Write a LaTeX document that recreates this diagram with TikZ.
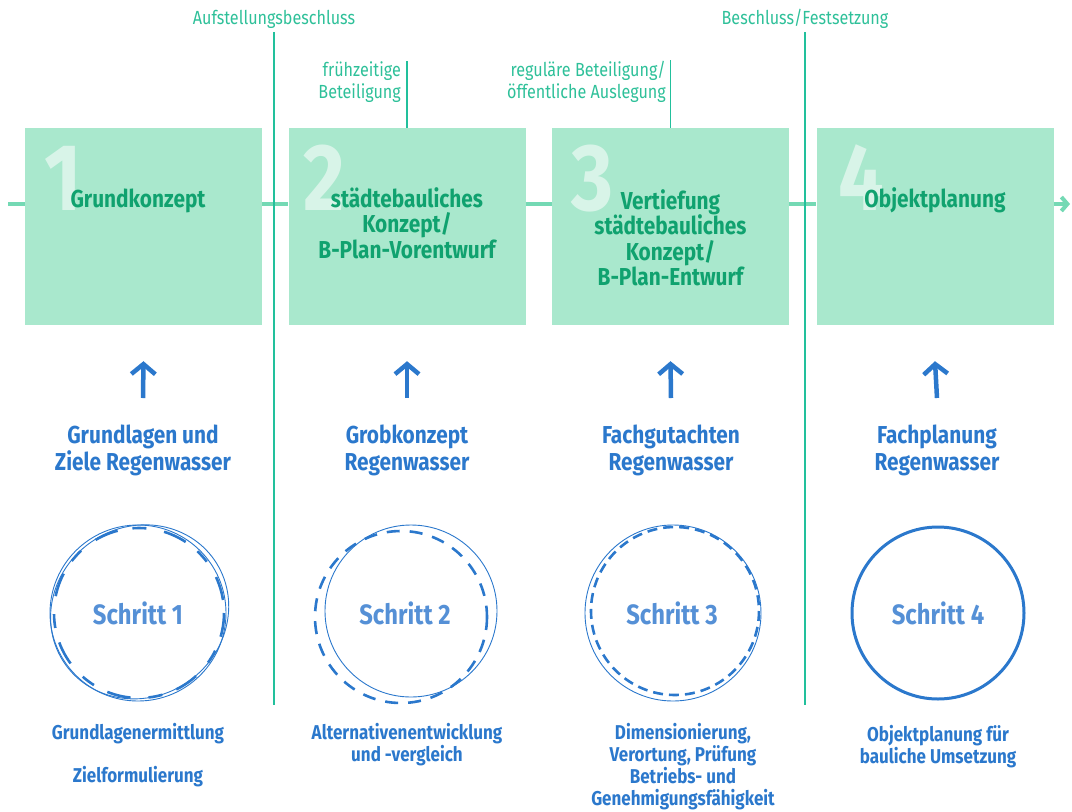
\documentclass[tikz,border=0pt]{standalone}
\usepackage{fontspec}
\setmainfont{Fira Sans}[FakeStretch=0.85]
\usetikzlibrary{arrows.meta,positioning}

\definecolor{boxmint}{HTML}{A9E8CD}
\definecolor{linemint}{HTML}{74D9B4}
\definecolor{rulegreen}{HTML}{22C09C}
\definecolor{labgreen}{HTML}{2EC099}
\definecolor{titlegreen}{HTML}{10A26F}
\definecolor{rainblue}{HTML}{2B78CC}
\definecolor{stepblue}{HTML}{5590D6}

\tikzset{
  phase/.style={fill=boxmint, minimum width=237pt, minimum height=197pt, inner sep=0pt},
  bignum/.style={text=white, text opacity=0.55, font=\fontsize{95}{95}\selectfont\bfseries, anchor=base west, inner sep=0pt},
  title/.style={text=titlegreen, font=\fontsize{24.5}{25.5}\selectfont\bfseries, align=center, anchor=base, inner sep=0pt},
  milestone/.style={text=labgreen, font=\fontsize{19}{22}\selectfont, inner sep=0pt},
  plan/.style={text=rainblue, font=\fontsize{24.5}{27}\selectfont\bfseries, align=center, anchor=base, inner sep=0pt},
  stepname/.style={text=stepblue, font=\fontsize{28}{28}\selectfont\bfseries, inner sep=0pt},
  task/.style={text=rainblue, font=\fontsize{20}{22}\selectfont\bfseries, align=center, anchor=base, inner sep=0pt},
  flow/.style={draw=linemint, line width=4pt},
  cut/.style={draw=rulegreen, line width=1.6pt},
  feed/.style={draw=rainblue, line width=4.5pt, -{Straight Barb[length=10pt,width=24pt]}},
  sketch/.style={draw=rainblue, line width=0.9pt},
  sketchdash/.style={draw=rainblue, line width=2.6pt},
}

\begin{document}
\begin{tikzpicture}[x=1pt,y=-1pt]
            \useasboundingbox (0,0) rectangle (1072,812);

            % Phases
            \node[phase] (grund)   at (143.5,226.5) {};
            \node[phase] (staedte) at (407,226.5)   {};
            \node[phase] (vertief) at (670.5,226.5) {};
            \node[phase] (objekt)  at (935,226.5)   {};

            \coordinate (flowin)  at (8,204);
            \coordinate (flowout) at (1070,204);
            \draw[flow] (flowin) -- (flowin -| grund.west);
            \draw[flow] (flowin -| grund.east) -- (flowin -| staedte.west);
            \draw[flow] (flowin -| staedte.east) -- (flowin -| vertief.west);
            \draw[flow] (flowin -| vertief.east) -- (flowin -| objekt.west);
            \draw[flow,-{Straight Barb[length=6pt,width=14pt]}] (flowin -| objekt.east) -- (flowout);

            \node[bignum] (num1) at (44,210)  {1};
            \node[bignum] (num2) at (303,210) {2};
            \node[bignum] (num3) at (571,210) {3};
            \node[bignum] (num4) at (838,210) {4};

            % base of a wrapped node is its last line
            \node[title] (title1) at (138,207)     {Grundkonzept};
            \node[title] (title2) at (407,258)     {städtebauliches\\Konzept/\\B-Plan-Vorentwurf};
            \node[title] (title3) at (670.5,285.5) {Vertiefung\\städtebauliches\\Konzept/\\B-Plan-Entwurf};
            \node[title] (title4) at (935,207)     {Objektplanung};

            % Milestones
            \node[milestone, anchor=base] (aufst)  at (274,24) {Aufstellungsbeschluss};
            \node[milestone, anchor=base] (beschl) at (805,24) {Beschluss/Festsetzung};
            \coordinate (aufstend)  at (274,705);
            \coordinate (beschlend) at (805,705);
            \draw[cut] ([yshift=-4pt]aufst.south) -- (aufstend);
            \draw[cut] ([yshift=-4pt]beschl.south) -- (beschlend);

            \node[milestone, align=right, anchor=base east] (frueh) at (401,98) {frühzeitige\\Beteiligung};
            \node[milestone, align=right, anchor=base east] (regul) at (666,98) {reguläre Beteiligung/\\öffentliche Auslegung};
            \draw[cut] (staedte.north) -- (staedte.north |- frueh.north);
            \draw[cut] (vertief.north) -- (vertief.north |- regul.north);

            % Regenwasser
            \node[plan] (plan1) at (143,470)   {Grundlagen und\\Ziele Regenwasser};
            \node[plan] (plan2) at (407,470)   {Grobkonzept\\Regenwasser};
            \node[plan] (plan3) at (671,470)   {Fachgutachten\\Regenwasser};
            \node[plan] (plan4) at (937,470)   {Fachplanung\\Regenwasser};
            \draw[feed] (plan1.north |- 0,398) -- ([yshift=-36pt]grund.south);
            \draw[feed] (plan2.north |- 0,398) -- ([yshift=-36pt]staedte.south);
            \draw[feed] (plan3.north |- 0,398) -- ([yshift=-36pt]vertief.south);
            \draw[feed] (plan4.north |- 0,398) -- ([yshift=-36pt]objekt.south);

            % Schritte
            \node[stepname] (step1) at (138,613) {Schritt 1};
            \node[stepname] (step2) at (405,613) {Schritt 2};
            \node[stepname] (step3) at (672,613) {Schritt 3};
            \node[stepname] (step4) at (938,613) {Schritt 4};

            \draw[sketch] (step1.center) circle[radius=88];
            \draw[sketch, rotate around={35:(step1.center)}] ([xshift=2pt]step1.center) ellipse[x radius=91, y radius=85];
            \draw[sketchdash, dash pattern=on 24pt off 15pt on 14pt off 18pt] ([xshift=1pt]step1.center) circle[radius=85];

            \draw[sketch] ([xshift=6pt,yshift=2pt]step2.center) circle[radius=86];
            \draw[sketchdash, dash pattern=on 13pt off 10pt] ([xshift=-4pt,yshift=-4pt]step2.center) circle[radius=86];

            \draw[sketch] ([xshift=1pt]step3.center) circle[radius=88];
            \draw[sketchdash, dash pattern=on 10pt off 6pt] ([xshift=3pt,yshift=2pt]step3.center) circle[radius=84];

            \draw[draw=rainblue, line width=3pt] (step4.center) circle[radius=86];

            \node[task] (task1a) at (138,739) {Grundlagenermittlung};
            \node[task] (task1b) at (138,782) {Zielformulierung};
            \node[task] (task2)  at (407,761) {Alternativenentwicklung\\und -vergleich};
            \node[task] (task3)  at (683,805) {Dimensionierung,\\Verortung, Prüfung\\Betriebs- und\\Genehmigungsfähigkeit};
            \node[task] (task4)  at (938,763) {Objektplanung für\\bauliche Umsetzung};
\end{tikzpicture}
\end{document}
